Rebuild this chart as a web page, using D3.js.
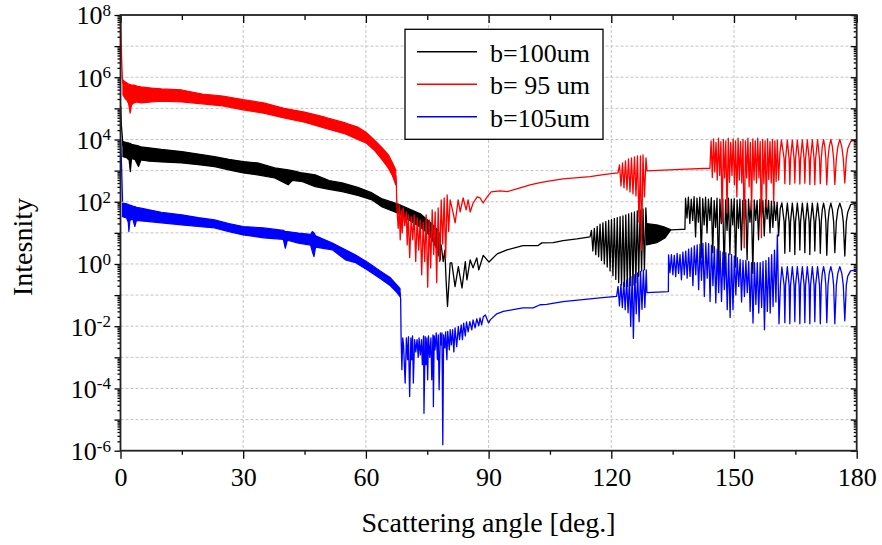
<!DOCTYPE html>
<html><head><meta charset="utf-8">
<script src="https://cdn.jsdelivr.net/npm/d3@7"></script>
<style>
body{margin:0;background:#fff}
svg{display:block}
svg text{font-family:'Liberation Serif','Times New Roman',Times,serif;fill:#000}
</style></head>
<body><svg id="c" width="882" height="545"></svg>
<script>
// ---------- labels / ticks ----------
const xTickValues = [0, 30, 60, 90, 120, 150, 180];
const xMinorTickValues = [15, 45, 75, 105, 135, 165];
const xGridValues = [30, 60, 90, 120, 150];
const yDecadeExponents = [-6,-5,-4,-3,-2,-1,0,1,2,3,4,5,6,7,8];
const yLabelExponents = [8, 6, 4, 2, 0, -2, -4, -6];
const seriesNames = ["b=100um", "b= 95 um", "b=105um"];
const xTitle = "Scattering angle [deg.]";
const yTitle = "Intesnity";

// ---------- b=100um (black) ----------
const blackSpike = [[0.05,1.2e5],[0.2,3e4],[0.45,1.2e4],[0.6,6e3]];
const blackBandA = [ // [angle, low, high]
[0.6,2.8e3,8.6e3],[1.5,2.6e3,8e3],[2.1,2.2e3,7.6e3],[2.4,930,7.5e3],[2.7,2.4e3,7e3],[3.5,2.3e3,6.6e3],
[4.4,1.35e3,6.2e3],[5,2.2e3,5.8e3],[7,2e3,5.4e3],[10,1.9e3,4.8e3],[15,1.77e3,4.1e3],[19,1.55e3,3.4e3],
[23,1.35e3,2.8e3],[26.5,1.05e3,2.3e3],[30,840,1.95e3],[33.5,730,1.77e3],[37.7,580,1.22e3],[41,350,1.05e3],
[42,480,1e3],[44.5,443,840],[47.6,306,730],[51,250,480],[54.2,212,403],[58,160,290],[61.5,114,192],
[64,68,123],[67.7,44,85],[70.1,28,63],[73.3,15.5,41],[75.7,8,22],[77.2,3.3,14],[78.2,1.35,8.6]];
const blackLineA = [
[78.2,3.5],[78.4,4.1],[78.9,1.2],[79.3,2.8],[79.6,0.31],[79.95,0.043],[80.2,0.147],[80.6,1.08],[81.0,1.08],
[81.8,0.188],[82.6,0.825],[83.5,0.17],[84.3,1.19],[84.7,0.31],[85.5,1.35],[86.2,0.75],[87.1,1.57],[87.6,0.65],
[88.7,1.9],[90.1,1.15],[92.1,2.11],[94.5,2.84],[98.4,3.9],[102.1,3.9],[103.0,4.76],[105.8,4.87],[108.2,5.64],
[111.6,6.4],[114.8,7.4],
[115.15,12],[115.5,2.6],[115.85,14],[116.2,2.0],[116.55,16],[116.9,1.7],[117.25,19],[117.6,1.3],[117.95,21],
[118.3,1.0],[118.65,23],[119.0,0.8],[119.35,25],[119.7,0.6],[120.05,27],[120.4,0.42],[120.75,29],[121.1,0.32],
[121.45,31],[121.8,0.25],[122.15,33],[122.5,0.21],[122.85,35],[123.2,0.19],[123.55,38],[123.9,0.19],[124.25,41],
[124.6,0.2],[124.95,44],[125.3,0.21],[125.65,47],[126.0,0.25],[126.35,51],[126.7,0.4],[127.05,55],[127.4,0.6],
[127.75,59],[128.1,0.65],[128.45,63],[128.7,12]];
const blackBandB = [[128.6,4.1,20],[131.1,4.8,18],[133.1,6.8,15.2],[134.5,12.2,12.8]];
const blackLineB = [
[134.5,12.5],[137.2,13],[138.0,13],
[138.15,130],[138.5,30],[138.85,140],[139.2,20],[139.55,120],[139.9,25],[140.25,145],[140.6,7.4],[140.95,130],
[141.3,22],[141.65,140],[142.0,1.6],[142.35,125],[142.7,18],[143.05,140],[143.4,10],[143.75,120],[144.1,25],
[144.45,135],[144.8,2.3],[145.15,110],[145.5,15],[145.85,130],[146.2,0.5],[146.55,120],[146.9,20],[147.25,125],
[147.6,0.4],[147.95,115],[148.3,12],[148.65,130],[149.0,2],[149.35,120],[149.7,18],[150.05,125],[150.4,0.8],
[150.75,115],[151.1,14],[151.45,120],[151.8,2.8],[152.15,110],[152.5,20],[152.85,115],[153.2,1.36],[153.55,120],
[153.9,22],[154.25,110],[154.6,0.5],[154.95,115],[155.3,25],[155.65,110],[156.0,6],[156.35,120],[156.7,30],
[157.05,110],[157.4,8],[157.75,115],[158.1,28],[158.45,110],[158.8,10],[159.15,105],[159.5,15],[159.85,100],
[160.2,25],[160.55,95],[160.9,8],[161.3,60],[161.7,92],[162.25,23],[162.43,2.2],
[162.61,23],[163.04,90],[163.47,23],[163.65,2.5],
[163.83,23],[164.26,90],[164.69,23],[164.87,2.0],
[165.05,23],[165.49,90],[165.92,23],[166.1,2.8],
[166.28,23],[166.71,90],[167.14,23],[167.32,2.3],
[167.5,23],[167.93,90],[168.36,23],[168.54,2.0],
[168.72,23],[169.15,90],[169.58,23],[169.76,2.6],
[169.96,23],[170.43,90],[170.9,23],[171.1,2.2],
[171.34,23],[171.58,55],[171.9,90],[172.21,55],[172.45,23],[172.69,1.9],
[172.98,23],[173.28,55],[173.67,90],[174.06,55],[174.36,23],[174.65,2.3],
[175.02,23],[175.38,55],[175.87,90],[176.36,55],[176.72,23],[177.09,1.8],
[177.46,23],[177.8,45],[178.5,80],[180,92]];

// ---------- b= 95 um (red) ----------
const redSpike = [[0.05,1e8],[0.15,2e7],[0.3,3e6],[0.45,1e6],[0.6,6e5]];
const redBandA = [
[0.6,2.7e5,8e5],[1.2,2e5,7e5],[1.5,1.9e5,6.6e5],[2.0,1.4e5,6e5],[2.35,7e4,5.8e5],[2.7,1.3e5,5.6e5],
[3.3,1.5e5,5.6e5],[4,1.6e5,5.2e5],[5,1.5e5,4.9e5],[7.5,1.6e5,4.5e5],[10,1.7e5,4.2e5],[15,1.6e5,3.9e5],
[20,1.4e5,2.9e5],[25,1.2e5,2.5e5],[30,9e4,1.9e5],[35,7e4,1.5e5],[40,4.9e4,1e5],[45,3.6e4,7.6e4],
[50,2.3e4,5.2e4],[55,1.5e4,3.4e4],[58,1e4,2.5e4],[60,7.8e3,1.7e4],[62,4.6e3,9.8e3],[64,2.2e3,5.4e3],
[65.5,1.2e3,3.2e3],[66.5,680,1.8e3],[67.3,350,1.05e3]];
const redLineA = [
[67.3,700],[67.42,500],[67.54,114],[67.66,44],[67.9,14],[68.15,79],[68.39,6],[68.64,55],[68.88,10],[69.13,63],
[69.49,17],[69.86,47],[70.1,4.1],[70.35,38],[70.71,1.6],[71.08,33],[71.45,6],[71.81,38],[72.18,1.2],[72.54,30],
[72.91,2.8],[73.28,26],[73.64,0.45],[74.01,22],[74.38,1.2],[74.74,38],[75.11,0.18],[75.48,26],[75.84,0.75],
[76.21,55],[76.58,2],[76.94,47],[77.31,0.25],[77.67,63],[78.04,1.2],[78.41,114],[78.77,4.4],[79.14,132],
[79.5,1.6],[79.87,165],[80.24,11],[80.6,114],[81.33,44],[81.82,21],[82.56,114],[83.05,47],[83.78,132],
[84.51,55],[85.0,114],[85.49,47],[86.22,91],[87.2,143],[87.93,132],[88.66,91],[89.64,143],[90.62,206],
[92.82,222],[94.53,211],[97.7,277],[100.15,346],[102.59,410],[105.03,466],[108.21,540],[111.14,580],
[114.8,640],[118.47,755],[121.64,840],
[122.01,1520],[122.37,320],[122.74,1770],[123.1,280],[123.47,2050],[123.84,240],[124.2,2370],[124.57,207],
[124.94,2560],[125.3,178],[125.67,2750],[126.03,154],[126.4,2970],[126.77,22],[127.14,2970],[127.38,2.8],
[127.75,3190],[128.11,143],[128.48,2560],[128.72,980],
[136.79,1090],[144.11,1190],
[144.4,9e3],[144.7,600],[145.0,1.05e4],[145.3,900],[145.6,8e3],[145.9,500],[146.2,1.1e4],[146.5,700],
[146.8,8.5e3],[147.1,22],[147.4,1e4],[147.7,580],[148.0,9e3],[148.3,44],[148.6,1.1e4],[148.9,420],
[149.2,8e3],[149.5,700],[149.8,1.05e4],[150.1,350],[150.4,9e3],[150.7,143],[151.0,1.1e4],[151.3,500],
[151.6,8.5e3],[151.9,400],[152.2,1e4],[152.5,3.3],[152.8,9e3],[153.1,580],[153.4,1.1e4],[153.7,300],
[154.0,8e3],[154.3,55],[154.6,1.05e4],[154.9,500],[155.2,9e3],[155.5,400],[155.8,1.1e4],[156.1,580],
[156.4,8.5e3],[156.7,7],[157.0,1e4],[157.3,380],[157.6,9e3],[157.9,68],[158.2,1.05e4],[158.5,520],
[158.8,8.5e3],[159.1,400],[159.4,1e4],[159.7,91],[160.0,9e3],[160.3,450],[160.6,9.5e3],[160.9,500],
[161.25,4e3],[161.6,9.5e3],[162.25,2.4e3],[162.43,380],
[162.61,2.4e3],[163.04,9.5e3],[163.47,2.4e3],[163.65,360],
[163.83,2.4e3],[164.26,9.6e3],[164.69,2.4e3],[164.87,400],
[165.05,2.4e3],[165.49,9.6e3],[165.92,2.4e3],[166.1,370],
[166.28,2.4e3],[166.71,9.7e3],[167.14,2.4e3],[167.32,390],
[167.5,2.4e3],[167.93,9.7e3],[168.36,2.4e3],[168.54,360],
[168.72,2.4e3],[169.15,9.8e3],[169.58,2.4e3],[169.76,350],
[169.96,2.4e3],[170.43,9.8e3],[170.9,2.4e3],[171.1,380],
[171.34,2.4e3],[171.58,5.8e3],[171.9,9.9e3],[172.21,5.8e3],[172.45,2.4e3],[172.69,350],
[172.98,2.4e3],[173.28,5.8e3],[173.67,1e4],[174.06,5.8e3],[174.36,2.4e3],[174.65,360],
[175.02,2.4e3],[175.38,5.8e3],[175.87,1e4],[176.36,5.8e3],[176.72,2.4e3],[177.09,400],
[177.46,2.5e3],[177.8,5e3],[178.5,8.5e3],[180,1e4]];

// ---------- b=105um (blue) ----------
const blueSpike = [[0.05,1e4],[0.25,1.5e3],[0.5,100]];
const blueBandA = [
[0.5,33,91],[1.5,30,85],[1.9,22,82],[2.05,11,80],[2.3,25,78],[3.0,28,72],[3.5,16,70],[3.9,25,66],
[5,24,62],[7,23,55],[10,21,46],[15,18,38],[19,16,31],[23,14.4,26],[26.5,11,20],[30,8.6,16],[35,6.9,14.4],
[39.8,6.2,12],[40.3,3.2,11],[40.8,5.8,11],[43.5,4.7,9.8],[46.5,4,9],[46.9,2.5,11],[47.3,1.73,10],
[47.7,3.5,8],[51.8,2.84,4.7],[55,1.36,2.84],[57.5,1.1,1.95],[60.3,0.65,1.16],[63.5,0.34,0.6],
[66,0.2,0.36],[67.6,0.12,0.21],[68.35,0.09,0.16]];
const blueLineA = [
[68.35,0.12],[68.5,0.071],[68.6,0.0047],[68.8,4e-4],[69.0,0.0042],[69.2,0.0025],[69.6,1.5e-4],[69.9,0.0042],
[70.2,8.4e-4],[70.4,0.0046],[70.7,5.5e-5],[71.0,0.0042],[71.2,8.4e-4],[71.4,0.0049],[71.6,1.5e-4],[71.9,0.0037],
[72.2,0.0015],[72.5,0.0037],[72.8,1e-3],[73.0,0.0042],[73.3,1.2e-3],[73.6,0.0037],[73.8,5.8e-4],[74.1,0.0049],
[74.2,1.6e-5],[74.5,0.0046],[74.7,5.8e-4],[74.9,0.0042],[75.1,1.9e-4],[75.3,0.0049],[75.6,1e-3],[75.9,0.0042],
[76.1,1.9e-4],[76.4,0.0053],[76.5,2.6e-5],[76.7,0.0049],[76.9,0.00175],[77.2,0.0061],[77.5,8.4e-4],[77.7,0.0053],
[77.9,9.1e-5],[78.2,0.0061],[78.4,0.0025],[78.6,0.0061],[78.8,1.56e-6],[79.0,0.0053],[79.3,0.002],[79.5,0.0066],
[79.8,8.4e-4],[80.0,0.0068],[80.4,0.00175],[80.6,0.0077],[80.9,0.0025],[81.2,0.0077],[81.5,0.0015],[81.8,0.0089],
[82.2,0.0022],[82.6,0.0098],[82.9,0.0037],[83.3,0.011],[83.6,0.0037],[83.9,0.0126],[84.3,0.0049],[84.6,0.0138],
[85.0,0.0066],[85.4,0.014],[85.9,0.0077],[86.2,0.016],[86.7,0.0089],[87.1,0.0173],[87.6,0.0103],[87.9,0.0186],
[88.3,0.011],[88.7,0.02],[89.2,0.023],[90.0,0.0128],[90.4,0.016],[92.0,0.025],[93.6,0.03],[96.0,0.034],
[98.4,0.039],[100.9,0.039],[102.6,0.049],[104.2,0.05],[108.2,0.062],[112.4,0.07],[114.8,0.076],[117.2,0.082],
[121.3,0.091],
[121.65,0.19],[122.0,0.045],[122.35,0.22],[122.7,0.04],[123.05,0.26],[123.4,0.034],[123.75,0.3],[124.1,0.027],
[124.45,0.35],[124.75,0.0098],[125.1,0.4],[125.4,0.0041],[125.75,0.45],[126.1,0.025],[126.45,0.52],[126.8,0.014],
[127.15,0.58],[127.5,0.035],[127.85,0.63],[128.2,0.04],[128.55,0.65],[128.7,0.12],
[133.95,0.13],[134.0,1.96],[134.35,0.52],[134.7,2.0],[135.05,0.45],[135.4,1.9],[135.75,0.39],[136.1,2.2],
[136.45,0.5],[136.8,2.0],[137.15,0.31],[137.5,2.4],[137.85,0.45],[138.2,2.6],[138.55,0.35],[138.9,3.0],
[139.25,0.4],[139.6,3.3],[139.95,0.2],[140.3,3.8],[140.65,0.45],[141.0,4.1],[141.35,0.15],[141.7,4.3],
[142.05,0.3],[142.4,4.6],[142.75,0.09],[143.1,4.8],[143.45,0.35],[143.8,4.5],[144.15,0.062],[144.5,4.0],
[144.85,0.2],[145.2,3.6],[145.55,0.056],[145.9,3.0],[146.25,0.12],[146.6,2.6],[146.95,0.062],[147.3,2.4],
[147.65,0.15],[148.0,2.3],[148.35,0.034],[148.7,2.1],[149.05,0.019],[149.4,2.0],[149.75,0.034],[150.1,1.8],
[150.45,0.1],[150.8,1.6],[151.15,0.19],[151.5,1.4],[151.85,0.06],[152.2,1.3],[152.55,0.09],[152.9,1.3],
[153.25,0.12],[153.6,1.2],[153.95,0.03],[154.3,1.1],[154.65,0.0126],[155.0,1.1],[155.35,0.05],[155.7,1.1],
[156.05,0.0265],[156.4,1.1],[156.75,0.04],[157.1,1.2],[157.45,0.0077],[157.8,1.3],[158.15,0.03],[158.5,1.6],
[158.85,0.0265],[159.2,2.0],[159.55,0.043],[159.9,2.8],[160.25,0.06],[160.6,8.6],[161.0,0.012],
[161.35,0.21],[161.7,0.8],[162.25,0.21],[162.43,0.013],
[162.61,0.21],[163.04,0.82],[163.47,0.21],[163.65,0.012],
[163.83,0.21],[164.26,0.82],[164.69,0.21],[164.87,0.014],
[165.05,0.21],[165.49,0.82],[165.92,0.21],[166.1,0.012],
[166.28,0.21],[166.71,0.82],[167.14,0.21],[167.32,0.013],
[167.5,0.21],[167.93,0.82],[168.36,0.21],[168.54,0.012],
[168.72,0.21],[169.15,0.82],[169.58,0.21],[169.76,0.014],
[169.96,0.21],[170.43,0.82],[170.9,0.21],[171.1,0.012],
[171.34,0.21],[171.58,0.5],[171.9,0.82],[172.21,0.5],[172.45,0.21],[172.69,0.013],
[172.98,0.21],[173.28,0.5],[173.67,0.82],[174.06,0.5],[174.36,0.21],[174.65,0.012],
[175.02,0.21],[175.38,0.5],[175.87,0.82],[176.36,0.5],[176.72,0.21],[177.09,0.015],
[177.46,0.21],[177.8,0.4],[178.5,0.6],[180,0.65]];

const seriesColors = ["#000000", "#ff0000", "#0000ff"];

// ---------- drawing ----------
const FONT = "'Liberation Serif', 'Times New Roman', Times, serif";
const svg = d3.select("#c");
const L = 120.5, R = 856.7, T = 15, B = 450.7;
const x = d3.scaleLinear().domain([0, 180]).range([L, R]);
const y = d3.scaleLog().domain([1e-6, 1e8]).range([B, T]);

// grid
const grid = svg.append("g").attr("stroke", "#c4c4c4").attr("stroke-width", 1).attr("stroke-dasharray", "3,2");
grid.selectAll("line.gy").data(yDecadeExponents.filter(e => e > -6 && e < 8)).join("line")
  .attr("x1", L).attr("x2", R).attr("y1", e => y(Math.pow(10, e))).attr("y2", e => y(Math.pow(10, e)));
grid.selectAll("line.gx").data(xGridValues).join("line")
  .attr("y1", T).attr("y2", B).attr("x1", d => x(d)).attr("x2", d => x(d));

// data
svg.append("defs").append("clipPath").attr("id", "clip")
  .append("rect").attr("x", L).attr("y", T - 1).attr("width", R - L).attr("height", B - T + 1);
const plot = svg.append("g").attr("clip-path", "url(#clip)");
const line = d3.line().x(d => x(d[0])).y(d => y(d[1]));
const area = d3.area().x(d => x(d[0])).y0(d => y(d[1])).y1(d => y(d[2]));

const series = [
  { color: seriesColors[0], bands: [blackBandA, blackBandB], lines: [blackSpike, blackLineA, blackLineB] },
  { color: seriesColors[1], bands: [redBandA], lines: [redSpike, redLineA] },
  { color: seriesColors[2], bands: [blueBandA], lines: [blueSpike, blueLineA] }
];
series.forEach(s => {
  s.bands.forEach(b => plot.append("path").attr("d", area(b)).attr("fill", s.color)
    .attr("stroke", s.color).attr("stroke-width", 1.2).attr("stroke-linejoin", "round"));
  s.lines.forEach(l => plot.append("path").attr("d", line(l)).attr("fill", "none")
    .attr("stroke", s.color).attr("stroke-width", 1.3).attr("stroke-linejoin", "round"));
});

// axes
const minorY = [];
yDecadeExponents.slice(0, -1).forEach(e => { for (let m = 2; m <= 9; m++) minorY.push(m * Math.pow(10, e)); });
const majorY = yDecadeExponents.map(e => Math.pow(10, e));

function styleAxis(g) {
  g.attr("font-family", FONT);
  g.select(".domain").remove();
  g.selectAll("line").attr("stroke", "#000").attr("stroke-width", 1.3);
}
svg.append("g").attr("transform", `translate(0,${B})`)
  .call(d3.axisBottom(x).tickValues(xTickValues).tickSize(8).tickPadding(8.5).tickFormat(d3.format("d")))
  .call(styleAxis)
  .call(g => g.selectAll("text").attr("font-size", 26).style("font-family", FONT));
svg.append("g").attr("transform", `translate(0,${B})`)
  .call(d3.axisBottom(x).tickValues(xMinorTickValues).tickSize(4).tickFormat("")).call(styleAxis);
svg.append("g").attr("transform", `translate(0,${T})`)
  .call(d3.axisTop(x).tickValues(xTickValues).tickSize(-8).tickFormat("")).call(styleAxis);
svg.append("g").attr("transform", `translate(0,${T})`)
  .call(d3.axisTop(x).tickValues(xMinorTickValues).tickSize(-5).tickFormat("")).call(styleAxis);
svg.append("g").attr("transform", `translate(${L},0)`)
  .call(d3.axisLeft(y).tickValues(majorY).tickSize(6).tickFormat("")).call(styleAxis);
svg.append("g").attr("transform", `translate(${L},0)`)
  .call(d3.axisLeft(y).tickValues(minorY).tickSize(3).tickFormat("")).call(styleAxis);
svg.append("g").attr("transform", `translate(${R},0)`)
  .call(d3.axisRight(y).tickValues(majorY).tickSize(-6).tickFormat("")).call(styleAxis);
svg.append("g").attr("transform", `translate(${R},0)`)
  .call(d3.axisRight(y).tickValues(minorY).tickSize(-3).tickFormat("")).call(styleAxis);

// frame
svg.append("rect").attr("x", L).attr("y", T).attr("width", R - L).attr("height", B - T)
  .attr("fill", "none").attr("stroke", "#222").attr("stroke-width", 1.8);

// y labels
const yl = svg.append("g");
yLabelExponents.forEach(e => {
  const t = yl.append("text").attr("x", 111).attr("y", y(Math.pow(10, e)) + 9.3)
    .attr("text-anchor", "end").attr("font-size", 26).style("font-family", FONT);
  t.append("tspan").text("10");
  t.append("tspan").attr("dy", -8.5).attr("font-size", 17).text(String(e));
});

// axis titles
svg.append("text").attr("x", (L + R) / 2).attr("y", 532).attr("text-anchor", "middle")
  .attr("font-size", 28).style("font-family", FONT).text(xTitle);
svg.append("text").attr("transform", `translate(32,${247}) rotate(-90)`).attr("text-anchor", "middle")
  .attr("font-size", 28).style("font-family", FONT).text(yTitle);

// legend
const lg = svg.append("g");
lg.append("rect").attr("x", 405).attr("y", 29.3).attr("width", 198).attr("height", 110)
  .attr("fill", "#fff").attr("stroke", "#000").attr("stroke-width", 1.3);
seriesNames.forEach((n, i) => {
  const yy = 51.7 + i * 32.5;
  lg.append("line").attr("x1", 417).attr("x2", 477).attr("y1", yy).attr("y2", yy)
    .attr("stroke", seriesColors[i]).attr("stroke-width", 1.5);
  lg.append("text").attr("x", 490).attr("y", yy + 10).attr("font-size", 26).style("font-family", FONT).text(n);
});
</script>
</body></html>
